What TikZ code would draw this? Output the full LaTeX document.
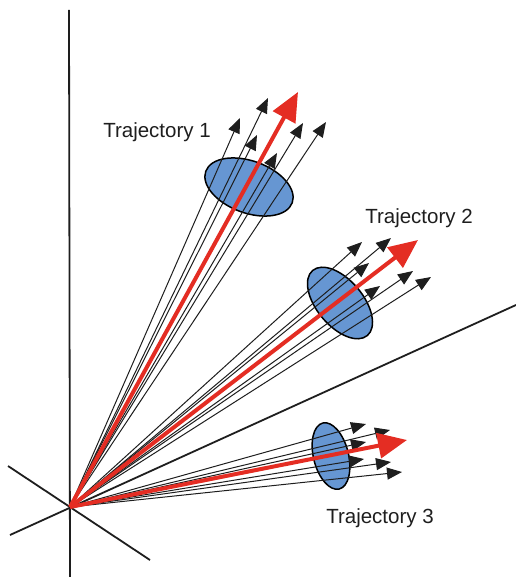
\documentclass[tikz,border=0pt]{standalone}
\usepackage{fontspec}
\setmainfont{Liberation Sans}
\usetikzlibrary{arrows.meta}
\definecolor{redarrow}{RGB}{228,45,35}
\definecolor{ellfill}{RGB}{102,150,210}
\definecolor{inkgray}{RGB}{30,30,30}
\begin{document}
\begin{tikzpicture}[x=1bp,y=-1bp,
  axisline/.style={line width=1.8bp,inkgray},
  ray/.style={line width=1bp,inkgray,-{Triangle[length=15bp,width=12bp]}},
  redray/.style={line width=4bp,redarrow,-{Triangle[length=29bp,width=25bp]}},
  blob/.style={draw=black,line width=1.5bp,fill=ellfill},
  lbl/.style={font=\fontsize{20.5bp}{24bp}\selectfont,text=inkgray,inner sep=0pt}]
\useasboundingbox (0,0) rectangle (516,577);
% origin and axes
\coordinate (O) at (70,507);
\coordinate (va) at (69,10);
\coordinate (vb) at (70,577);
\coordinate (d1a) at (8,466);
\coordinate (d1b) at (150,560);
\coordinate (d2a) at (10,535);
\coordinate (d2b) at (516,305);
\draw[axisline] (va) -- (vb);
\draw[axisline] (d1a) -- (d1b);
\draw[axisline] (d2a) -- (d2b);
% ellipses
\coordinate (E1) at (249,187);
\coordinate (E2) at (340,303);
\coordinate (E3) at (331,456);
\draw[blob,rotate around={-20:(E1)}] (E1) ellipse [x radius=46bp,y radius=26bp];
\draw[blob,rotate around={-50:(E2)}] (E2) ellipse [x radius=42.5bp,y radius=23bp];
\draw[blob,rotate around={-76:(E3)}] (E3) ellipse [x radius=34bp,y radius=17.5bp];
% trajectory 1 tips
\coordinate (a1) at (268,98);
\coordinate (a2) at (240,118);
\coordinate (a3) at (257,135);
\coordinate (a4) at (277,153);
\coordinate (a5) at (303,123);
\coordinate (a6) at (326,122);
\coordinate (ar) at (298,92);
% trajectory 2 tips
\coordinate (b1) at (362,242);
\coordinate (b2) at (391,238);
\coordinate (b3) at (369,263);
\coordinate (b4) at (380,286);
\coordinate (b5) at (413,271);
\coordinate (b6) at (431,277);
\coordinate (br) at (418,240);
% trajectory 3 tips
\coordinate (c1) at (366,424);
\coordinate (c2) at (390,430);
\coordinate (c3) at (366,442);
\coordinate (c4) at (364,459);
\coordinate (c5) at (391,462);
\coordinate (c6) at (402,472);
\coordinate (cr) at (407,440);
\foreach \t in {a1,a2,a3,a4,a5,a6,b1,b2,b3,b4,b5,b6,c1,c2,c3,c4,c5,c6}
  \draw[ray] (O) -- (\t);
\foreach \t in {ar,br,cr}
  \draw[redray] (O) -- (\t);
% labels
\node[lbl] (L1) at (157,132) {Trajectory 1};
\node[lbl] (L2) at (419,218) {Trajectory 2};
\node[lbl] (L3) at (380,518) {Trajectory 3};
\end{tikzpicture}
\end{document}
